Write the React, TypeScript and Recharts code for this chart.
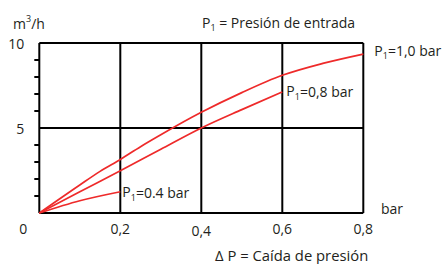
import React from "react";
import {
  LineChart,
  Line,
  XAxis,
  YAxis,
  ReferenceLine,
  Customized,
} from "recharts";

// ΔP (bar) and flow (m³/h)
const dp10 = [0, 0.1, 0.15, 0.2, 0.25, 0.3, 0.4, 0.5, 0.6, 0.7, 0.8];
const q10 = [0, 1.65, 2.45, 3.15, 3.9, 4.6, 5.92, 7.08, 8.1, 8.8, 9.35];
const dp08 = [0, 0.1, 0.2, 0.3, 0.4, 0.5, 0.6];
const q08 = [0, 1.25, 2.48, 3.75, 5.0, 6.08, 7.12];
const dp04 = [0, 0.1, 0.2];
const q04 = [0, 0.72, 1.25];

const xTicks = [0.2, 0.4, 0.6, 0.8];
const yTicks = [0, 1, 2, 3, 4, 5, 6, 7, 8, 9, 10];
const yLabelled = [0, 5, 10];
const gridX = [0, 0.2, 0.4, 0.6, 0.8];
const gridY = [0, 5, 10];

const RED = "#ee2a2a";
const FONT = "'Open Sans', sans-serif";
const TXT = "#231f20";

const toPoints = (xs: number[], ys: number[]) =>
  xs.map((x, i) => ({ x, y: ys[i] }));

const s10 = toPoints(dp10, q10);
const s08 = toPoints(dp08, q08);
const s04 = toPoints(dp04, q04);

const P1 = ({ x, y, rest }: { x: number; y: number; rest: string }) => (
  <text x={x} y={y} dominantBaseline="central" fontFamily={FONT} fontSize={14} fill={TXT}>
    P
    <tspan fontSize={9} dy={5}>1</tspan>
    <tspan dy={-5}>{rest}</tspan>
  </text>
);

const endLabel = (count: number, rest: string, dx: number, dy: number) => (props: any) => {
  if (props.index !== count - 1) return null;
  return <P1 x={props.x + dx} y={props.y + dy} rest={rest} />;
};

const YTick = (props: any) => {
  const { x, y, payload } = props;
  const v = payload.value;
  if (v === 0)
    return (
      <text x={x - 16} y={y + 15} textAnchor="middle" dominantBaseline="central" fontFamily={FONT} fontSize={14} fill={TXT}>
        0
      </text>
    );
  if (yLabelled.includes(v))
    return (
      <text x={x - 15} y={y} textAnchor="end" dominantBaseline="central" fontFamily={FONT} fontSize={14} fill={TXT}>
        {v}
      </text>
    );
  return <line x1={x - 5} x2={x} y1={y} y2={y} stroke="#000" strokeWidth={2} />;
};

const XTick = (props: any) => {
  const { x, y, payload } = props;
  const off = payload.value === 0.4 ? 17.5 : 15;
  return (
    <text x={x} y={y + off} textAnchor="middle" dominantBaseline="central" fontFamily={FONT} fontSize={14} fill={TXT}>
      {String(payload.value).replace(".", ",")}
    </text>
  );
};

const Titles = () => (
  <g fontFamily={FONT} fontSize={14} fill={TXT}>
    <text x={13} y={23} dominantBaseline="central">
      m<tspan fontSize={9} dy={-5}>3</tspan>
      <tspan dy={5}>/h</tspan>
    </text>
    <P1 x={202} y={22} rest=" = Presión de entrada" />
    <text x={381} y={208} dominantBaseline="central">bar</text>
    <text x={215} y={255} dominantBaseline="central" fontSize={14.8}>Δ P = Caída de presión</text>
  </g>
);

export default function App() {
  return (
    <div style={{ position: "absolute", left: 0, top: 0, background: "#fff" }}>
      <LineChart
        width={444}
        height={264}
        margin={{ top: 43, right: 80.7, bottom: 50, left: 38.3 }}
      >
        <XAxis
          type="number"
          dataKey="x"
          domain={[0, 0.8]}
          ticks={xTicks}
          height={1}
          axisLine={false}
          tickLine={false}
          tickSize={0}
          tickMargin={0}
          tick={<XTick />}
          interval={0}
        />
        <YAxis
          type="number"
          domain={[0, 10]}
          ticks={yTicks}
          width={1}
          axisLine={false}
          tickLine={false}
          tickSize={0}
          tickMargin={0}
          tick={<YTick />}
          interval={0}
        />
        {gridX.map((v) => (
          <ReferenceLine key={"x" + v} x={v} stroke="#000" strokeWidth={2} />
        ))}
        {gridY.map((v) => (
          <ReferenceLine key={"y" + v} y={v} stroke="#000" strokeWidth={2} />
        ))}
        <Line
          data={s04}
          dataKey="y"
          type="monotone"
          stroke={RED}
          strokeWidth={1.7}
          dot={false}
          isAnimationActive={false}
          label={endLabel(s04.length, "=0.4 bar", 2, 0)}
        />
        <Line
          data={s08}
          dataKey="y"
          type="monotone"
          stroke={RED}
          strokeWidth={1.7}
          dot={false}
          isAnimationActive={false}
          label={endLabel(s08.length, "=0,8 bar", 4, -1)}
        />
        <Line
          data={s10}
          dataKey="y"
          type="monotone"
          stroke={RED}
          strokeWidth={1.7}
          dot={false}
          isAnimationActive={false}
          label={endLabel(s10.length, "=1,0 bar", 11, -4)}
        />
        <Customized component={<Titles />} />
      </LineChart>
    </div>
  );
}
